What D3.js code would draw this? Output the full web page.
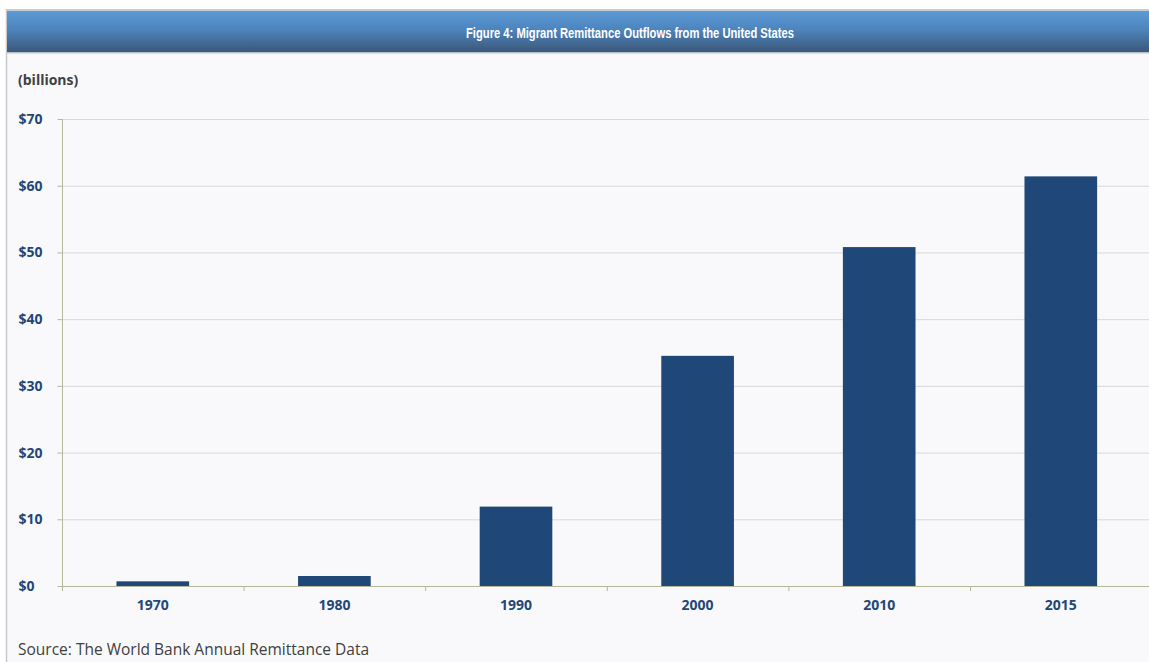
<!DOCTYPE html>
<html>
<head>
<meta charset="utf-8">
<script src="https://cdn.jsdelivr.net/npm/d3@7"></script>
<style>
  html, body { margin: 0; padding: 0; background: #ffffff; }
  svg { display: block; }
</style>
</head>
<body>
<svg id="chart" width="1149" height="662"></svg>
<script>
const categories = ["1970", "1980", "1990", "2000", "2010", "2015"];
const values = [0.7, 1.5, 11.9, 34.5, 50.8, 61.4];
const yTicks = [0, 10, 20, 30, 40, 50, 60, 70];
const titleText = "Figure 4: Migrant Remittance Outflows from the United States";
const unitText = "(billions)";
const sourceText = "Source: The World Bank Annual Remittance Data";

const W = 1149, H = 662;
const svg = d3.select("#chart");
const FONT = "'Open Sans', Lato, sans-serif";

// panel background
svg.append("rect").attr("x", 6).attr("y", 9).attr("width", W - 6).attr("height", H - 9)
  .attr("fill", "#f9f9fb");
svg.append("line").attr("x1", 6.5).attr("x2", 6.5).attr("y1", 9).attr("y2", H)
  .attr("stroke", "#c8c8c8").attr("stroke-width", 1.5);

// header gradient
const defs = svg.append("defs");
const grad = defs.append("linearGradient").attr("id", "hdr").attr("x1", 0).attr("x2", 0).attr("y1", 0).attr("y2", 1);
grad.append("stop").attr("offset", "0%").attr("stop-color", "#5b9ad6");
grad.append("stop").attr("offset", "45%").attr("stop-color", "#4d84bd");
grad.append("stop").attr("offset", "100%").attr("stop-color", "#3c5878");
svg.append("rect").attr("x", 7).attr("y", 9).attr("width", W - 7).attr("height", 2).attr("fill", "#c4ccd6");
svg.append("rect").attr("x", 7).attr("y", 11).attr("width", W - 7).attr("height", 41).attr("fill", "url(#hdr)");
svg.append("rect").attr("x", 7).attr("y", 52).attr("width", W - 7).attr("height", 1.5).attr("fill", "#b7c2cf");
svg.append("text").attr("x", 630).attr("y", 38).attr("text-anchor", "middle")
  .attr("fill", "#ffffff").attr("font-family", "'Liberation Sans', Arial, sans-serif")
  .attr("font-weight", "bold").attr("font-size", 14)
  .attr("textLength", 328).attr("lengthAdjust", "spacingAndGlyphs").text(titleText);

// scales
const x = d3.scaleBand().domain(categories).range([62, 62 + 6 * 181.6]).paddingInner(0.6).paddingOuter(0.3);
const y = d3.scaleLinear().domain([0, 70]).range([586, 119]);

// gridlines
svg.append("g").selectAll("line").data(yTicks.filter(d => d > 0)).join("line")
  .attr("x1", 62).attr("x2", W).attr("y1", d => y(d) + 0.5).attr("y2", d => y(d) + 0.5)
  .attr("stroke", "#d9d9d9").attr("stroke-width", 1);

// bars
svg.append("g").selectAll("rect").data(values).join("rect")
  .attr("x", (d, i) => x(categories[i]))
  .attr("width", x.bandwidth())
  .attr("y", d => y(d))
  .attr("height", d => y(0) - y(d))
  .attr("fill", "#1f4778");

// y axis
const yAxis = d3.axisLeft(y).tickValues(yTicks).tickSize(5).tickPadding(8).tickFormat(d => "$" + d);
const gy = svg.append("g").attr("transform", "translate(62.5,0)").call(yAxis);
gy.select(".domain").attr("stroke", "#b5b89a").attr("d", "M0," + y(70) + "V" + y(0));
gy.selectAll(".tick line").attr("stroke", "#b5b89a");
gy.selectAll(".tick text").attr("fill", "#1f4778").attr("font-family", FONT)
  .attr("font-weight", "bold").attr("font-size", 14).attr("text-anchor", "start").attr("x", -44);

// x axis
const xAxis = d3.axisBottom(x).tickSize(0).tickPadding(14);
const gx = svg.append("g").attr("transform", "translate(0,586.5)").call(xAxis);
gx.select(".domain").attr("stroke", "#b5b89a").attr("d", "M62," + 0 + "H" + W);
gx.selectAll(".tick text").attr("fill", "#1f4778").attr("font-family", FONT)
  .attr("font-weight", "bold").attr("font-size", 14);
// category boundary ticks
const bounds = d3.range(0, categories.length + 1).map(i => x.step() * i + 62);
svg.append("g").selectAll("line").data(bounds).join("line")
  .attr("x1", d => d + 0.5).attr("x2", d => d + 0.5).attr("y1", 586).attr("y2", 591)
  .attr("stroke", "#b5b89a");

// labels
svg.append("text").attr("x", 18).attr("y", 85).attr("fill", "#404040")
  .attr("font-family", FONT).attr("font-weight", "bold").attr("font-size", 14)
  .text(unitText);
svg.append("text").attr("x", 18).attr("y", 655).attr("fill", "#404040")
  .attr("font-family", FONT).attr("font-size", 15.5)
  .text(sourceText);
</script>
</body>
</html>
